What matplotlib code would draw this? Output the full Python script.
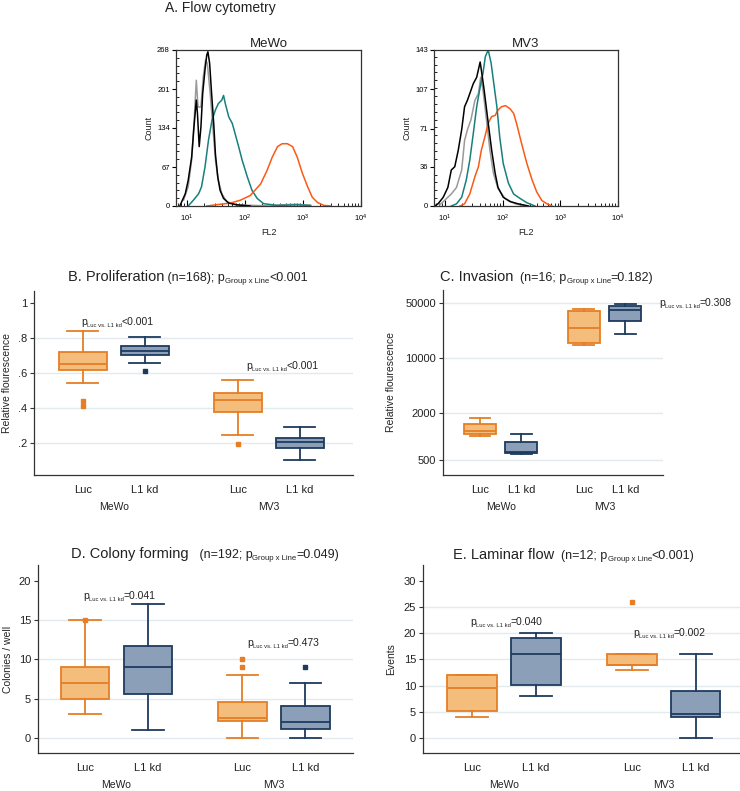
import numpy as np
import matplotlib.pyplot as plt
from matplotlib.ticker import AutoMinorLocator, LogLocator, NullFormatter, NullLocator

plt.rcParams['font.family'] = ['Liberation Sans', 'DejaVu Sans']

# ---------- A. flow cytometry (log10 FL2, count) ----------
mewo_black_lx = [0.88, 0.97, 1.02, 1.08, 1.12, 1.16, 1.18, 1.21, 1.24, 1.27, 1.31, 1.34, 1.36, 1.39,
                 1.42, 1.46, 1.49, 1.53, 1.57, 1.63, 1.72, 1.86, 2.09]
mewo_black_n = [1, 21, 44, 84, 136, 182, 159, 102, 136, 193, 234, 259, 265, 245,
                199, 142, 89, 50, 27, 13, 5, 2, 0]
mewo_gray_lx = [0.94, 1.02, 1.08, 1.12, 1.16, 1.19, 1.24, 1.28, 1.32, 1.35, 1.40, 1.45, 1.49, 1.54,
                1.60, 1.69, 1.86, 2.44, 2.61, 2.90, 3.13]
mewo_gray_n = [10, 33, 79, 142, 216, 170, 170, 222, 251, 245, 193, 130, 79, 44,
               21, 7, 2, 0, 2, 3, 1]
mewo_teal_lx = [1.02, 1.11, 1.20, 1.25, 1.31, 1.37, 1.43, 1.49, 1.54, 1.60, 1.63, 1.66, 1.72, 1.78,
                1.83, 1.89, 1.95, 2.04, 2.12, 2.21, 2.32, 2.56, 2.90, 3.13]
mewo_teal_n = [0, 10, 21, 33, 67, 113, 147, 165, 176, 182, 190, 176, 153, 142,
               124, 102, 79, 50, 27, 13, 4, 1, 2, 1]
mewo_orange_lx = [1.34, 1.57, 1.75, 1.92, 2.09, 2.27, 2.38, 2.47, 2.56, 2.64, 2.73, 2.82, 2.90, 2.99,
                  3.08, 3.16, 3.25, 3.36, 3.48]
mewo_orange_n = [0, 3, 5, 10, 18, 38, 61, 84, 102, 107, 107, 102, 84, 56,
                 33, 15, 6, 1, 0]

mv3_black_lx = [0.82, 0.88, 0.97, 1.05, 1.11, 1.17, 1.23, 1.29, 1.34, 1.39, 1.43, 1.49, 1.55, 1.61,
                1.63, 1.68, 1.75, 1.81, 1.87, 1.92, 2.01, 2.13, 2.27, 2.45]
mv3_black_n = [0, 2, 8, 17, 33, 36, 51, 70, 91, 97, 103, 112, 118, 132,
               125, 106, 76, 51, 30, 17, 8, 4, 2, 0]
mv3_gray_lx = [0.91, 0.99, 1.11, 1.20, 1.29, 1.34, 1.39, 1.45, 1.52, 1.58, 1.62, 1.66, 1.72, 1.78,
               1.84, 1.92, 2.04, 2.22, 2.39]
mv3_gray_n = [1, 5, 11, 17, 33, 60, 70, 79, 97, 103, 118, 106, 79, 51,
              30, 16, 7, 2, 0]
mv3_teal_lx = [1.11, 1.20, 1.29, 1.37, 1.43, 1.49, 1.55, 1.61, 1.66, 1.70, 1.75, 1.80, 1.84, 1.90,
               1.95, 2.01, 2.10, 2.19, 2.30, 2.42, 2.56]
mv3_teal_n = [0, 2, 8, 24, 42, 66, 91, 109, 122, 137, 143, 131, 115, 91,
              63, 39, 21, 11, 7, 3, 0]
mv3_orange_lx = [1.26, 1.34, 1.43, 1.52, 1.58, 1.63, 1.69, 1.75, 1.81, 1.87, 1.92, 1.98, 2.05, 2.13,
                 2.19, 2.24, 2.33, 2.42, 2.51, 2.59, 2.68, 2.77, 2.86]
mv3_orange_n = [0, 2, 11, 27, 36, 51, 63, 76, 82, 83, 88, 91, 92, 89,
                85, 76, 57, 39, 24, 13, 5, 2, 0]

mewo_yticks = [0, 67, 134, 201, 268]
mv3_yticks = [0, 36, 71, 107, 143]

# ---------- B-E. box plots ----------
categories = ['Luc', 'L1 kd', 'Luc', 'L1 kd']
lines = ['MeWo', 'MV3']

prolif_lo = [0.545, 0.659, 0.248, 0.107]
prolif_q1 = [0.621, 0.706, 0.381, 0.175]
prolif_med = [0.653, 0.729, 0.449, 0.207]
prolif_q3 = [0.720, 0.757, 0.486, 0.229]
prolif_hi = [0.840, 0.808, 0.561, 0.296]
prolif_fl = [[0.415, 0.444], [0.615], [0.197], []]

inv_lo = [1009, 600, 14750, 20400]
inv_q1 = [1091, 624, 15500, 29200]
inv_med = [1188, 640, 24300, 40300]
inv_q3 = [1456, 865, 39600, 46200]
inv_hi = [1714, 1080, 41600, 48600]
inv_fl = [[], [], [], []]

col_lo = [3, 1, 0, 0]
col_q1 = [5, 5.6, 2.15, 1.1]
col_med = [7, 9, 2.5, 2]
col_q3 = [9, 11.65, 4.6, 4.1]
col_hi = [15, 17, 8, 7]
col_fl = [[15], [], [9, 10], [9]]

lam_lo = [4, 8, 13, 0]
lam_q1 = [5.1, 10.1, 14, 4.1]
lam_med = [9.6, 16, 14, 4.6]
lam_q3 = [12, 19, 16, 9]
lam_hi = [12, 20, 16, 16]
lam_fl = [[], [], [26], []]

positions = [1, 2, 3.5, 4.5]
orange_edge, orange_fill = '#E57E25', '#F5BD7B'
blue_edge, blue_fill = '#1E3B5E', '#8C9FB8'
grid_c = '#E2EAEE'
txt_c = '#222222'

fig = plt.figure(figsize=(7.4, 7.91), dpi=100)


def px_axes(l, t, r, b):
    return fig.add_axes([l / 740, 1 - b / 791, (r - l) / 740, (b - t) / 791])


def chain(ax, x, y, parts, coords='data'):
    # consecutive text pieces of different sizes on one line
    s, size, dy = parts[0]
    prev = ax.annotate(s, xy=(x, y), xycoords=coords, fontsize=size, color=txt_c,
                       va='bottom', ha='left', annotation_clip=False)
    for s, size, dy in parts[1:]:
        prev = ax.annotate(s, xy=(1, 0), xycoords=prev, xytext=(0, dy), textcoords='offset points',
                           fontsize=size, color=txt_c, va='bottom', ha='left', annotation_clip=False)


def pval(ax, x, y, op_val):
    chain(ax, x, y, [('p', 7.5, 0), ('Luc vs. L1 kd', 4.2, -0.5), (op_val, 7.5, 0.5)])


def title(ax, x, y, head, n_part, tail):
    chain(ax, x / 740, 1 - y / 791, [(head, 10.5, 0), (n_part, 9, 0),
                                     ('Group x Line', 5.6, -0.5), (tail, 9, 0.5)],
          coords='figure fraction')


# flow panels
def flow(ax, curves, ymax, yticks, name):
    for lx, n, c in curves:
        ax.plot(10 ** np.array(lx), n, color=c, lw=1.1)
    ax.set_xscale('log')
    ax.set_xlim(10 ** 0.81, 1e4)
    ax.set_ylim(0, ymax)
    ax.set_yticks(yticks)
    ax.set_xticks([1e1, 1e2, 1e3, 1e4])
    ax.xaxis.set_minor_locator(LogLocator(base=10, subs=np.arange(2, 10)))
    ax.xaxis.set_minor_formatter(NullFormatter())
    ax.yaxis.set_minor_locator(AutoMinorLocator(5))
    ax.tick_params(axis='x', which='both', direction='in', labelsize=5.5, pad=5)
    ax.tick_params(axis='x', which='major', length=4)
    ax.tick_params(axis='x', which='minor', length=2)
    ax.tick_params(axis='y', which='major', direction='out', length=3, labelsize=5.5, pad=1.5)
    ax.tick_params(axis='y', which='minor', direction='in', length=2)
    for sp in ax.spines.values():
        sp.set_linewidth(0.9)
        sp.set_color('#333333')
    ax.set_title(name, fontsize=9.5, pad=2, color=txt_c)
    ax.set_ylabel('Count', fontsize=6.5, color=txt_c)
    ax.yaxis.set_label_coords(-0.12, 0.5)
    ax.set_xlabel('FL2', fontsize=6.5, color=txt_c)
    ax.xaxis.set_label_coords(0.5, -0.14)


ax_a1 = px_axes(176, 50, 361, 206)
flow(ax_a1, [(mewo_gray_lx, mewo_gray_n, '#9A9A9A'), (mewo_teal_lx, mewo_teal_n, '#17807D'),
             (mewo_orange_lx, mewo_orange_n, '#FA5A14'), (mewo_black_lx, mewo_black_n, '#000000')],
     268, mewo_yticks, 'MeWo')
ax_a2 = px_axes(434, 50, 618, 206)
flow(ax_a2, [(mv3_gray_lx, mv3_gray_n, '#9A9A9A'), (mv3_orange_lx, mv3_orange_n, '#FA5A14'),
             (mv3_teal_lx, mv3_teal_n, '#17807D'), (mv3_black_lx, mv3_black_n, '#000000')],
     143, mv3_yticks, 'MV3')
fig.text(220 / 740, 1 - 8 / 791, 'A. Flow cytometry', fontsize=10, ha='center', va='center', color=txt_c)


def boxes(ax, lo, q1, med, q3, hi, fl, xlim, ylim, yticks, ylabels, grid_vals, ylabel, lab_x):
    for i in range(4):
        edge, fill = (orange_edge, orange_fill) if i % 2 == 0 else (blue_edge, blue_fill)
        st = dict(whislo=lo[i], q1=q1[i], med=med[i], q3=q3[i], whishi=hi[i], fliers=fl[i])
        lp = dict(color=edge, lw=1.3)
        ax.bxp([st], positions=[positions[i]], widths=0.77, capwidths=0.5, patch_artist=True,
               boxprops=dict(facecolor=fill, edgecolor=edge, lw=1.3), medianprops=lp,
               whiskerprops=lp, capprops=lp, manage_ticks=False,
               flierprops=dict(marker='s', markersize=2.3, markerfacecolor=edge, markeredgecolor=edge))
    for g in grid_vals:
        ax.axhline(g, color=grid_c, lw=1.0, zorder=0)
    ax.set_xlim(*xlim)
    ax.set_ylim(*ylim)
    ax.set_xticks(positions, categories)
    ax.set_yticks(yticks, ylabels)
    ax.yaxis.set_minor_locator(NullLocator())
    ax.tick_params(axis='x', length=0, labelsize=8, pad=7.5, labelcolor=txt_c)
    ax.tick_params(axis='y', length=3, width=0.8, labelsize=8, pad=2, labelcolor=txt_c, color='#333333')
    for sp in ['top', 'right']:
        ax.spines[sp].set_visible(False)
    for sp in ['left', 'bottom']:
        ax.spines[sp].set_linewidth(0.9)
        ax.spines[sp].set_color('#333333')
    ax.set_ylabel(ylabel, fontsize=7.5, color=txt_c)
    ax.yaxis.set_label_coords(lab_x, 0.5)
    for gx, name in zip([1.5, 4.0], lines):
        ax.annotate(name, xy=(gx, 0), xycoords=('data', 'axes fraction'), xytext=(0, -23),
                    textcoords='offset points', ha='center', va='center', fontsize=7.5, color=txt_c)


# B. Proliferation
ax_b = px_axes(34, 291, 353, 475)
boxes(ax_b, prolif_lo, prolif_q1, prolif_med, prolif_q3, prolif_hi, prolif_fl,
      (0.21, 5.36), (0.02, 1.07), [0.2, 0.4, 0.6, 0.8, 1.0], ['.2', '.4', '.6', '.8', '1'],
      [0.2, 0.4, 0.6, 0.8], 'Relative flourescence', -0.07)
pval(ax_b, 0.97, 0.862, '<0.001')
pval(ax_b, 3.63, 0.612, '<0.001')
title(ax_b, 68, 284, 'B. Proliferation', ' (n=168); p', '<0.001')

# C. Invasion
ax_c = px_axes(443, 290, 663, 475)
ax_c.set_yscale('log')
boxes(ax_c, inv_lo, inv_q1, inv_med, inv_q3, inv_hi, inv_fl,
      (0.11, 5.41), (326, 73100), [500, 2000, 10000, 50000], ['500', '2000', '10000', '50000'],
      [500, 2000, 10000, 50000], 'Relative flourescence', -0.215)
pval(ax_c, 5.31, 43000, '=0.308')
title(ax_c, 440, 284, 'C. Invasion', '  (n=16; p', '=0.182)')

# D. Colony forming
ax_d = px_axes(38, 565, 353, 753)
boxes(ax_d, col_lo, col_q1, col_med, col_q3, col_hi, col_fl,
      (0.254, 5.254), (-1.9, 22.0), [0, 5, 10, 15, 20], ['0', '5', '10', '15', '20'],
      [0, 5, 10, 15], 'Colonies / well', -0.08)
pval(ax_d, 0.97, 17.4, '=0.041')
pval(ax_d, 3.57, 11.45, '=0.473')
title(ax_d, 71, 561, 'D. Colony forming', '   (n=192; p', '=0.049)')

# E. Laminar flow
ax_e = px_axes(423, 565, 740, 753)
boxes(ax_e, lam_lo, lam_q1, lam_med, lam_q3, lam_hi, lam_fl,
      (0.234, 5.19), (-2.86, 33.0), [0, 5, 10, 15, 20, 25, 30], ['0', '5', '10', '15', '20', '25', '30'],
      [0, 5, 10, 15, 20, 25], 'Events', -0.085)
pval(ax_e, 0.97, 21.2, '=0.040')
pval(ax_e, 3.52, 19.1, '=0.002')
title(ax_e, 453, 562, 'E. Laminar flow', '  (n=12; p', '<0.001)')

fig.savefig('out.png', dpi=100)
